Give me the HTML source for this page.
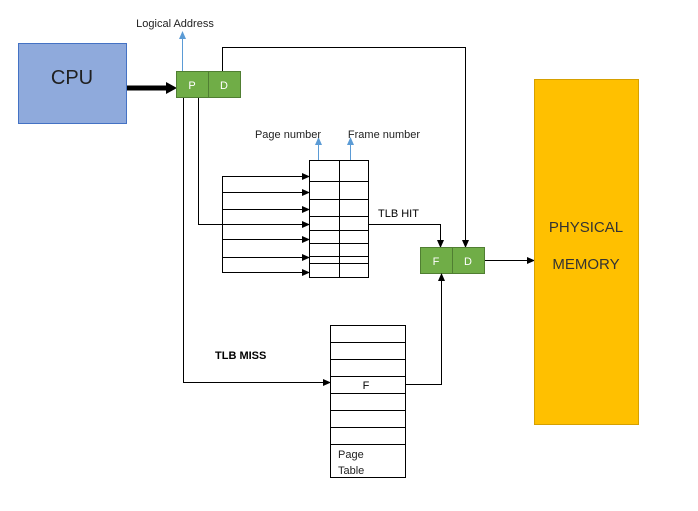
<!DOCTYPE html><html><head><style>body{margin:0;background:#fff}</style></head><body>
<svg width="698" height="506" xmlns="http://www.w3.org/2000/svg" font-family="Liberation Sans, sans-serif">
<defs>
<marker id="a" markerWidth="8" markerHeight="8" refX="7" refY="4" orient="auto" markerUnits="userSpaceOnUse"><path d="M0,0.5L8,4L0,7.5z" fill="#000"/></marker>
<marker id="b" markerWidth="8" markerHeight="8" refX="7" refY="4" orient="auto" markerUnits="userSpaceOnUse"><path d="M0,0.5L8,4L0,7.5z" fill="#5b9bd5"/></marker>
</defs>
<rect x="18.5" y="43.5" width="108" height="80" fill="#8faadc" stroke="#4472c4"/>
<text x="72" y="84" font-size="20" text-anchor="middle" fill="#1f1f1f">CPU</text>
<line x1="127" y1="88" x2="168" y2="88" stroke="#000" stroke-width="5"/>
<path d="M166,82L177,88L166,94z" fill="#000"/>
<rect x="176.5" y="71.5" width="64" height="26" fill="#70ad47" stroke="#507e32"/>
<line x1="208.5" y1="71" x2="208.5" y2="98" stroke="#507e32"/>
<text x="192" y="89" font-size="11" fill="#fff" text-anchor="middle">P</text>
<text x="224" y="89" font-size="11" fill="#fff" text-anchor="middle">D</text>
<line x1="182.5" y1="71" x2="182.5" y2="32" stroke="#5b9bd5" marker-end="url(#b)"/>
<text x="175" y="27" font-size="11" text-anchor="middle" fill="#222">Logical Address</text>
<polyline points="222.5,71 222.5,47.5 465.5,47.5 465.5,247" fill="none" stroke="#000" marker-end="url(#a)"/>
<polyline points="198.5,98 198.5,224.5 222,224.5" fill="none" stroke="#000"/>
<polyline points="183.5,98 183.5,382.5 330,382.5" fill="none" stroke="#000" marker-end="url(#a)"/>
<line x1="222.5" y1="176" x2="222.5" y2="272" stroke="#000"/>
<g stroke="#000" marker-end="url(#a)">
<line x1="222" y1="176.5" x2="309" y2="176.5"/><line x1="222" y1="192.5" x2="309" y2="192.5"/>
<line x1="222" y1="209.5" x2="309" y2="209.5"/><line x1="222" y1="224.5" x2="309" y2="224.5"/>
<line x1="222" y1="239.5" x2="309" y2="239.5"/><line x1="222" y1="257.5" x2="309" y2="257.5"/>
<line x1="222" y1="272.5" x2="309" y2="272.5"/></g>
<rect x="309.5" y="160.5" width="59" height="117" fill="none" stroke="#000"/>
<line x1="339.5" y1="160" x2="339.5" y2="278" stroke="#000"/>
<g stroke="#000"><line x1="309" y1="181.5" x2="369" y2="181.5"/><line x1="309" y1="199.5" x2="369" y2="199.5"/><line x1="309" y1="216.5" x2="369" y2="216.5"/><line x1="309" y1="230.5" x2="369" y2="230.5"/><line x1="309" y1="243.5" x2="369" y2="243.5"/><line x1="309" y1="256.5" x2="369" y2="256.5"/><line x1="309" y1="263.5" x2="369" y2="263.5"/></g>
<line x1="318.5" y1="160" x2="318.5" y2="138" stroke="#5b9bd5" marker-end="url(#b)"/>
<line x1="350.5" y1="160" x2="350.5" y2="138" stroke="#5b9bd5" marker-end="url(#b)"/>
<text x="288" y="138" font-size="11" text-anchor="middle" fill="#222">Page number</text>
<text x="384" y="138" font-size="11" text-anchor="middle" fill="#222">Frame number</text>
<text x="378" y="217" font-size="11" fill="#000">TLB HIT</text>
<polyline points="369,224.5 440.5,224.5 440.5,247" fill="none" stroke="#000" marker-end="url(#a)"/>
<rect x="420.5" y="247.5" width="64" height="26" fill="#70ad47" stroke="#507e32"/>
<line x1="452.5" y1="247" x2="452.5" y2="274" stroke="#507e32"/>
<text x="436" y="265" font-size="11" fill="#fff" text-anchor="middle">F</text>
<text x="468" y="265" font-size="11" fill="#fff" text-anchor="middle">D</text>
<line x1="485" y1="260.5" x2="534" y2="260.5" stroke="#000" marker-end="url(#a)"/>
<rect x="534.5" y="79.5" width="104" height="345" fill="#ffc000" stroke="#d6a000"/>
<text x="586" y="232" font-size="15" text-anchor="middle" fill="#333">PHYSICAL</text>
<text x="586" y="269" font-size="15" text-anchor="middle" fill="#333">MEMORY</text>
<text x="215" y="359" font-size="11" font-weight="bold" fill="#000">TLB MISS</text>
<rect x="330.5" y="325.5" width="75" height="152" fill="none" stroke="#000"/>
<g stroke="#000"><line x1="330" y1="342.5" x2="405" y2="342.5"/><line x1="330" y1="359.5" x2="405" y2="359.5"/><line x1="330" y1="376.5" x2="405" y2="376.5"/><line x1="330" y1="393.5" x2="405" y2="393.5"/><line x1="330" y1="410.5" x2="405" y2="410.5"/><line x1="330" y1="427.5" x2="405" y2="427.5"/><line x1="330" y1="444.5" x2="405" y2="444.5"/></g>
<text x="366" y="389" font-size="11" text-anchor="middle">F</text>
<text x="338" y="458" font-size="11" fill="#222">Page</text>
<text x="338" y="474" font-size="11" fill="#222">Table</text>
<polyline points="405,384.5 441.5,384.5 441.5,274" fill="none" stroke="#000" marker-end="url(#a)"/>
</svg></body></html>
